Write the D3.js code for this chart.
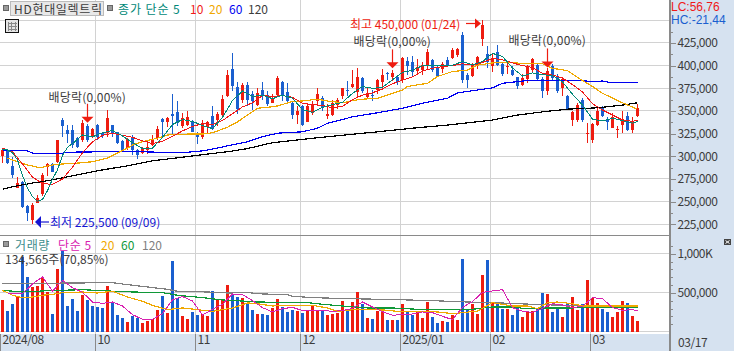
<!DOCTYPE html>
<html>
<head>
<meta charset="utf-8">
<script src="https://cdn.jsdelivr.net/npm/d3@7"></script>
<style>
html, body { margin: 0; padding: 0; background: #fff; overflow: hidden; }
text { font-family: "Noto Sans CJK KR", "Liberation Sans", sans-serif; font-size: 12px; }
</style>
</head>
<body>
<svg id="chart" width="734" height="351"></svg>
<script>
// prices in thousands of won, volumes in thousands of shares
var opens = [300.5,307.5,289.5,265.5,271.5,245.5,230,249,258,288.5,
    291.5,294,340,329,329,320.5,317.5,333.5,321.5,334.5,
    326,325.5,334,326.5,317,309,321.5,307,304,307,
    312.5,320,341,337.5,346.5,349,333.5,334.5,337.5,323.5,
    321,332.5,344.5,339.5,345.5,366.5,396.5,376.5,362,378.5,
    368.5,356.5,373,367.5,359,367.5,381.5,370.5,359,345.5,
    355,338,347.5,361.5,364,345,345.5,356.5,366.5,373,
    376,371,386,365,367.5,373,381.5,392,387,387,
    384,405,404.5,394.5,395,400.5,406,398,396.5,406,
    408,412,434,389.5,388.5,400.5,429.5,413,400,415.5,
    402,398,395,387,378.5,385,395,400.5,385.5,372.5,
    400,387,375,367,339.5,340,362,324.5,318,334.5,
    353,341,331.5,328.5,334.5,344.5,329,345]
var highs = [309,308.5,299.5,277,273,246,248.5,257.5,281.5,292.5,
    292.5,318,342.5,334.5,334.5,321.5,340,335.5,331.5,335.5,
    327,351,334.5,327,318,320.5,323.5,308,310.5,318,
    323.5,333.5,342,343.5,369,361,347.5,350,340,327,
    340,339,355,349,367.5,395,413.5,382,381,382.5,
    371.5,375.5,381.5,371.5,369,388.5,383,381,360.5,355,
    356.5,357.5,361.5,375.5,366,357.5,362,364.5,375.5,383,
    395,397.5,387.5,375.5,373,385.5,396.5,393.5,395,388,
    409,409,410.5,407,404.5,418,407,399.5,403.5,409,
    419,420,437.5,391.5,402.5,410.5,450,421.5,413.5,423,
    402.5,404.5,399.5,387.5,391,400.5,408,402,387,397.5,
    402,391,386,367.5,350,358.5,364,336.5,337,354,
    355,343.5,347.5,333.5,350,349,343.5,357.5]
var lows = [293,291.5,276,265,243.5,228.5,225.5,248.5,256.5,278.5,
    283,293,321.5,314.5,309,309,316,316,320.5,318,
    320,321.5,321.5,313.5,306,307,301.5,297,302.5,302.5,
    311.5,318,321.5,332.5,324.5,333.5,331,333.5,327,313.5,
    319,324.5,329,333.5,343.5,365,372,346.5,359,355,
    351,355,362,355,358.5,366,360.5,357.5,341,335.5,
    333.5,337.5,345.5,356.5,349.5,341,344.5,352,363,366,
    375.5,364.5,370,364,361.5,369,373,384,383.5,378.5,
    380.5,389.5,388,389.5,389.5,395,393.5,387,391.5,399.5,
    407,410,380.5,375,388,396.5,421.5,397,393.5,399.5,
    388.5,391,388.5,374,377.5,380.5,393.5,384,364.5,367.5,
    384,369.5,366,351,333.5,338,337.5,314.5,314.5,333.5,
    343,328.5,331,320,325.5,328,325.5,343.5]
var closes = [306.5,292.5,279.5,270.5,244,238,246.5,254,279.5,291.5,
    283,317.5,333.5,324.5,312.5,310.5,336.5,318,330,321,
    323.5,342,326,315,307,319,307,301.5,308,310,
    319,330,338,342.5,344.5,336.5,342,343.5,327,321.5,
    337,338,330,346.5,363,389.5,377.5,352,378.5,362,
    360.5,369.5,366,357.5,363,386,366,360.5,345.5,350,
    334.5,355.5,356.5,369,354,346.5,358.5,362,375.5,371.5,
    379.5,388,371.5,369.5,366,384,389.5,390.5,392,381.5,
    408,400,393.5,398,400.5,414.5,395,388.5,402,400.5,
    417.5,418.5,384,384,400.5,409,445,404.5,408,400.5,
    391,399.5,389.5,377.5,386.5,399,407,385.5,372.5,394,
    386,371.5,385,352,349,356.5,339.5,325.5,335.5,350,
    344.5,338,343,330,341,329,339,353]
var volumes = [405,268,362,460,959,703,575,588,703,511,
    234,809,1035,332,426,268,477,405,332,320,
    307,588,375,213,179,128,204,179,115,141,
    162,285,460,243,907,435,204,170,256,222,
    234,204,524,405,409,605,477,447,439,362,
    285,230,230,217,307,422,320,256,281,268,
    243,264,332,277,268,217,230,243,396,268,
    383,511,358,179,166,268,320,153,153,153,
    358,268,217,256,179,383,192,115,141,128,
    217,153,933,281,358,230,728,920,383,371,
    294,294,217,320,192,256,268,294,498,486,
    256,294,192,371,447,281,358,665,435,371,
    294,256,192,256,396,371,204,135]
// bars whose volume is painted blue although the candle looks red
var volDown = [18]

// moving averages as [bar index, value]
var ma5 = [[0,308],[1,307],[2,304],[3,296],[4,279],[5,265],[6,255.5],[7,250.5],[8,252.5],[9,262],[10,275],[11,285],[12,301],[13,310],[14,314],[16,323.5],[18,321.5],[20,326],[22,328.5],[24,322.5],[26,315],[28,308.5],[30,309],[32,321],[34,335],[36,340.5],[38,338.5],[40,334],[42,330.5],[44,343],[46,361.5],[48,372],[50,366],[52,367.5],[54,363.5],[56,367.5],[58,364],[60,351.5],[62,348.5],[64,354],[66,357],[68,359.5],[70,369.5],[72,377],[74,375],[76,376],[78,384.5],[80,392.5],[82,395],[84,400],[86,400.5],[88,400],[90,400.5],[92,404.5],[94,401],[96,404.5],[98,413.5],[100,410],[102,397.5],[104,388.5],[106,392],[108,390],[110,389],[112,382],[114,368.5],[116,356.5],[118,341],[120,339],[122,342],[124,339.5],[126,336.5],[127,338.5]]
var ma10 = [[0,309],[2,305],[4,291.5],[6,277],[8,270],[10,269],[12,275],[14,288],[16,304],[18,316],[20,323],[22,325.5],[24,323],[26,321],[28,317],[30,314],[32,316.5],[34,322],[36,328],[38,333],[40,336],[42,335],[44,339.5],[46,347],[48,354.5],[50,359],[52,367],[54,366],[56,367],[58,365],[60,358.5],[62,357],[64,356],[66,353.5],[68,355],[70,362.5],[72,367.5],[74,370],[76,374.5],[78,380],[80,384],[82,387.5],[84,394],[86,397],[88,399],[90,400],[92,402],[94,400.5],[96,403.5],[98,408],[100,406.5],[102,403],[104,400],[106,398],[108,391.5],[110,389.5],[112,386.5],[114,379],[116,371],[118,358],[120,351],[122,345.5],[124,340],[126,338.5],[127,340]]
var ma20 = [[1,298],[3,294],[5,290.5],[7,288],[8,288],[10,290.5],[12,291.5],[15,292.5],[18,294],[21,298],[23,303.5],[25,309],[26,312.5],[28,316],[31,320],[33,323.5],[37,324.5],[40,324.5],[42,326],[45,332],[47,338],[49,345.5],[51,353],[53,354],[55,355.5],[58,360.5],[60,361],[63,363],[65,361],[68,359],[70,361.5],[72,363],[75,364],[77,367.5],[80,373],[81,377],[85,380.5],[87,388],[90,393.5],[93,395],[95,400.5],[98,403],[101,403.5],[104,402.5],[108,402],[110,397],[113,394.5],[115,387],[118,377],[120,369.5],[124,359],[127,352]]
var ma60 = [[0,306],[5,306],[6,303.5],[12,303.5],[13,304.5],[20,305],[28,305],[31,304.5],[37,304.5],[40,306],[42,308],[45,311.5],[49,316],[52,321.5],[55,325.5],[60,327],[63,331],[65,336.5],[70,343.5],[75,348],[80,353],[84,358.5],[89,364],[91,370],[98,375.5],[100,380.5],[104,383],[106,384],[111,384],[114,384],[118,382.5],[120,383],[122,381],[127,381]]
var ma120 = [[0,263.5],[2,266.5],[6,270.5],[10,274],[15,279.5],[20,285],[25,289.5],[30,295],[36,299],[41,302.5],[45,305],[49,308.5],[54,315],[59,318],[63,320.5],[75,327],[82,331],[89,334.5],[98,340],[103,345.5],[108,349],[113,352],[119,353.5],[124,356.5],[127,359]]

var volMa5 = [[1,490],[2,490],[4,490],[6,613],[8,705],[10,522],[12,660],[14,567],[16,507],[18,383],[20,366],[22,383],[24,332],[26,222],[28,162],[30,162],[32,234],[34,413],[36,452],[38,396],[40,217],[42,290],[44,354],[46,486],[48,477],[50,400],[52,311],[54,256],[56,298],[58,315],[60,273],[62,277],[64,277],[66,264],[68,273],[70,302],[72,383],[74,320],[76,260],[78,213],[80,226],[82,230],[84,256],[86,247],[88,200],[90,158],[92,315],[94,388],[96,507],[98,524],[100,541],[102,311],[104,264],[106,251],[108,302],[110,362],[112,345],[114,311],[116,328],[118,439],[120,426],[122,311],[124,277],[126,285],[127,273]]
var volMa20 = [[0,532],[2,469],[4,439],[6,447],[8,469],[10,481],[12,503],[16,511],[19,498],[22,520],[25,447],[28,392],[30,341],[33,285],[36,307],[39,285],[42,264],[46,307],[49,371],[51,362],[54,332],[57,341],[62,341],[65,307],[67,264],[71,290],[74,290],[77,277],[79,264],[83,264],[87,256],[90,234],[92,247],[95,268],[98,375],[102,332],[105,332],[107,298],[109,375],[111,383],[114,362],[116,332],[120,332],[124,332],[127,332]]
var volMa60 = [[0,532],[4,511],[8,524],[16,541],[21,524],[26,511],[32,503],[35,469],[40,439],[44,409],[49,392],[51,383],[61,375],[64,354],[68,332],[73,307],[78,307],[83,290],[90,290],[94,290],[98,320],[103,320],[104,298],[107,298],[109,307],[114,307],[118,320],[127,320]]
var volMa120 = [[0,618],[22,630],[25,605],[29,575],[33,545],[35,520],[41,511],[45,498],[49,503],[52,486],[57,477],[58,456],[62,439],[69,426],[79,413],[86,400],[93,383],[98,375],[106,354],[112,341],[127,341]]

var priceTicks = [450,425,400,375,350,325,300,275,250,225]
var priceMinor = [437.5,412.5,387.5,362.5,337.5,312.5,287.5,262.5,237.5]
var volTicks = [1000,500]
var volMinor = [100,200,300,400,600,700,800,900,1100]
var monthStarts = [19,39,60,80,98,118]
var monthLabels = {0:"2024/08",19:"10",39:"11",60:"12",80:"2025/01",98:"02",118:"03"}

var axisBg = "#d6e2f0", gridCol = "#d2d2d2", axisCol = "#8a8a8a", textCol = "#3c3c3c"
var upCol = "#ee1c10", downCol = "#1a5fcf"

var svg = d3.select("#chart")

var x = d3.scaleLinear().domain([0,127]).range([2.5,637.5])
var xEdge = d3.scaleLinear().domain([0,127]).range([0,635])
var yPrice = d3.scaleLinear().domain([225,450]).range([224.3,20.3])
var yVol = d3.scaleLinear().domain([0,1000]).range([332,253.7])

//===================== Background ====================
svg.append("rect").attr("x",670).attr("y",0).attr("width",64).attr("height",351).attr("fill",axisBg)
svg.append("rect").attr("x",0).attr("y",334).attr("width",734).attr("height",17).attr("fill",axisBg)

var grid = svg.append("g").attr("stroke",gridCol).attr("shape-rendering","crispEdges")
priceTicks.forEach(function(t){
    grid.append("line").attr("x1",0).attr("x2",669).attr("y1",yPrice(t)).attr("y2",yPrice(t))
})
volTicks.forEach(function(t){
    grid.append("line").attr("x1",0).attr("x2",669).attr("y1",yVol(t)).attr("y2",yVol(t))
})
grid.append("line").attr("x1",0).attr("x2",669).attr("y1",331.5).attr("y2",331.5)
monthStarts.forEach(function(m){
    grid.append("line").attr("x1",xEdge(m)).attr("x2",xEdge(m)).attr("y1",0).attr("y2",334)
})

//===================== Candles ====================
var idx = d3.range(opens.length)
var isUp = function(i){ return closes[i] >= opens[i] }

var candles = svg.append("g").attr("shape-rendering","crispEdges")
candles.selectAll(".wick").data(idx).enter().append("rect")
    .attr("class","wick")
    .attr("x", function(i){ return x(i)-0.5 })
    .attr("width",1)
    .attr("y", function(i){ return yPrice(highs[i]) })
    .attr("height", function(i){ return yPrice(lows[i])-yPrice(highs[i]) })
    .attr("fill", function(i){ return isUp(i) ? upCol : downCol })
candles.selectAll(".body").data(idx).enter().append("rect")
    .attr("class","body")
    .attr("x", function(i){ return x(i)-1.5 })
    .attr("width",3)
    .attr("y", function(i){ return yPrice(Math.max(opens[i],closes[i])) })
    .attr("height", function(i){ return Math.max(1, Math.abs(yPrice(opens[i])-yPrice(closes[i]))) })
    .attr("fill", function(i){ return isUp(i) ? upCol : downCol })

// volume bars
svg.append("g").attr("shape-rendering","crispEdges")
    .selectAll("rect").data(idx).enter().append("rect")
    .attr("x", function(i){ return x(i)-1.5 })
    .attr("width",3)
    .attr("y", function(i){ return yVol(volumes[i]) })
    .attr("height", function(i){ return yVol(0)-yVol(volumes[i]) })
    .attr("fill", function(i){ return isUp(i) && volDown.indexOf(i) < 0 ? upCol : downCol })

//===================== Moving averages ====================
function drawLine(data, yScale, color, width){
    var line = d3.line().x(function(d){ return x(d[0]) }).y(function(d){ return yScale(d[1]) })
    svg.append("path").attr("d", line(data)).attr("fill","none")
        .attr("stroke",color).attr("stroke-width",width).attr("shape-rendering","crispEdges")
}
drawLine(ma120, yPrice, "#000000", 1.2)
drawLine(ma60, yPrice, "#0000f0", 1.2)
drawLine(ma20, yPrice, "#f0a800", 1.2)
drawLine(ma10, yPrice, "#f01818", 1)
drawLine(ma5, yPrice, "#008878", 1)

drawLine(volMa120, yVol, "#808080", 1.2)
drawLine(volMa60, yVol, "#109838", 1.2)
drawLine(volMa20, yVol, "#f0a800", 1.2)
drawLine(volMa5, yVol, "#d820b0", 1)

//===================== Axes ====================
function styleAxis(g){
    g.select(".domain").remove()
    g.selectAll("line").attr("stroke",axisCol).attr("shape-rendering","crispEdges")
    g.selectAll("text").attr("fill",textCol).attr("font-size","12px")
        .attr("letter-spacing","-0.5")
        .attr("font-family",'"Noto Sans CJK KR", sans-serif')
}
var priceAxis = d3.axisRight(yPrice).tickValues(priceTicks.slice(1))
    .tickSize(6).tickPadding(2).tickFormat(function(d){ return d3.format(",")(d*1000) })
svg.append("g").attr("transform","translate(669.5,0)").call(priceAxis).call(styleAxis)
svg.append("g").attr("transform","translate(669.5,0)")
    .call(d3.axisRight(yPrice).tickValues(priceMinor).tickSize(3).tickFormat(""))
    .call(styleAxis)

var volAxis = d3.axisRight(yVol).tickValues(volTicks).tickSize(6).tickPadding(2)
    .tickFormat(function(d){ return d == 1000 ? "1,000K" : d3.format(",")(d*1000) })
svg.append("g").attr("transform","translate(669.5,0)").call(volAxis).call(styleAxis)
svg.append("g").attr("transform","translate(669.5,0)")
    .call(d3.axisRight(yVol).tickValues(volMinor).tickSize(3).tickFormat(""))
    .call(styleAxis)

var timeAxis = d3.axisBottom(xEdge).tickValues([0].concat(monthStarts)).tickSize(17).tickPadding(-16)
    .tickFormat(function(d){ return monthLabels[d] })
svg.append("g").attr("transform","translate(0,334)").call(timeAxis).call(styleAxis)
    .selectAll("text").attr("text-anchor","start").attr("dx",2)

svg.append("line").attr("x1",669.5).attr("x2",669.5).attr("y1",0).attr("y2",351)
    .attr("stroke",axisCol).attr("stroke-width",2).attr("shape-rendering","crispEdges")
svg.append("line").attr("x1",0).attr("x2",669).attr("y1",235.5).attr("y2",235.5)
    .attr("stroke",axisCol).attr("stroke-width",1.5).attr("shape-rendering","crispEdges")

//===================== Text and markers ====================
function label(txt, px, py, color, spacing){
    return svg.append("text").attr("x",px).attr("y",py).attr("fill",color)
        .attr("letter-spacing",spacing || 0)
        .attr("dominant-baseline","central").text(txt)
}
function square(px, py){
    svg.append("rect").attr("x",px).attr("y",py).attr("width",5).attr("height",5)
        .attr("fill","#9a9a9a").attr("stroke","#666")
        .attr("shape-rendering","crispEdges")
}

// header
square(3.5,5.5)
svg.append("rect").attr("x",10.5).attr("y",1.5).attr("width",93).attr("height",14)
    .attr("fill","#e8e8e8").attr("stroke","#bbbbbb").attr("shape-rendering","crispEdges")
label("HD현대일렉트릭",14,8.5,textCol,0.7)
square(107.5,5.5)
label("종가 단순 5",118,8.5,"#008878",0.9)
label("10",190,8.5,"#f01818")
label("20",209,8.5,"#f0a800")
label("60",229,8.5,"#0000f0")
label("120",248,8.5,textCol)

// table icon
var icon = svg.append("g").attr("shape-rendering","crispEdges")
icon.append("rect").attr("x",5.5).attr("y",19.5).attr("width",13).attr("height",13)
    .attr("fill","#e4e4e4").attr("stroke","#111")
d3.range(3).forEach(function(k){
    icon.append("line").attr("x1",8+k*3.5).attr("x2",8+k*3.5).attr("y1",22).attr("y2",31).attr("stroke","#888")
    icon.append("line").attr("x1",7.5).attr("x2",17).attr("y1",23.5+k*3).attr("y2",23.5+k*3).attr("stroke","#888")
})

// indicator values on the right
label("LC:56,76",671,7,"#f01818").style("font-family","Liberation Sans")
label("HC:-21,44",671,20,"#1a5fcf").style("font-family","Liberation Sans")

// dividend markers
var divMarks = [17,78,109]
var divPrice = [337,397,398]
var divTextGap = [26,28,28]
var divText = ["배당락(0,00%)","배당락(0,00%)","배당락(0,00%)"]
divMarks.forEach(function(m,k){
    var cx = x(m), tip = yPrice(divPrice[k])
    label(divText[k],cx-39,tip-divTextGap[k],textCol,0.2)
    svg.append("line").attr("x1",cx).attr("x2",cx).attr("y1",tip-19).attr("y2",tip-5)
        .attr("stroke",upCol).attr("stroke-width",1.2)
    svg.append("path").attr("d",d3.line()([[cx-6,tip-6],[cx+6,tip-6],[cx,tip]])).attr("fill",upCol)
})

// high and low
label("최고 450,000 (01/24)",350,23,upCol)
svg.append("line").attr("x1",466).attr("x2",478).attr("y1",23.5).attr("y2",23.5)
    .attr("stroke",upCol).attr("stroke-width",1.2)
svg.append("path").attr("d",d3.line()([[475,18.5],[481,23.5],[475,28.5]])).attr("fill",upCol)

label("최저 225,500 (09/09)",50,221.5,"#1414d2")
svg.append("line").attr("x1",38).attr("x2",49).attr("y1",222).attr("y2",222)
    .attr("stroke","#1414d2").attr("stroke-width",1.2)
svg.append("path").attr("d",d3.line()([[41,216],[35,222],[41,228]])).attr("fill","#1414d2")

// volume legend
square(3.5,241.5)
label("거래량",15,244,"#3c8c8c",0.6)
label("단순 5",58,244,"#d820b0",0.6)
label("20",101,244,"#f0a800")
label("60",121,244,"#109838")
label("120",142,244,"#808080")
label("134,565주(70,85%)",5,258,textCol)

// expand button and last date
svg.append("rect").attr("x",724).attr("y",239).attr("width",7).attr("height",6).attr("fill","#444")
svg.append("path").attr("d","M725.5,240.5L729.5,243.5M729.5,240.5L725.5,243.5").attr("stroke","#fff").attr("fill","none")
label("03/17",678,341,textCol,-0.4)
</script>
</body>
</html>
